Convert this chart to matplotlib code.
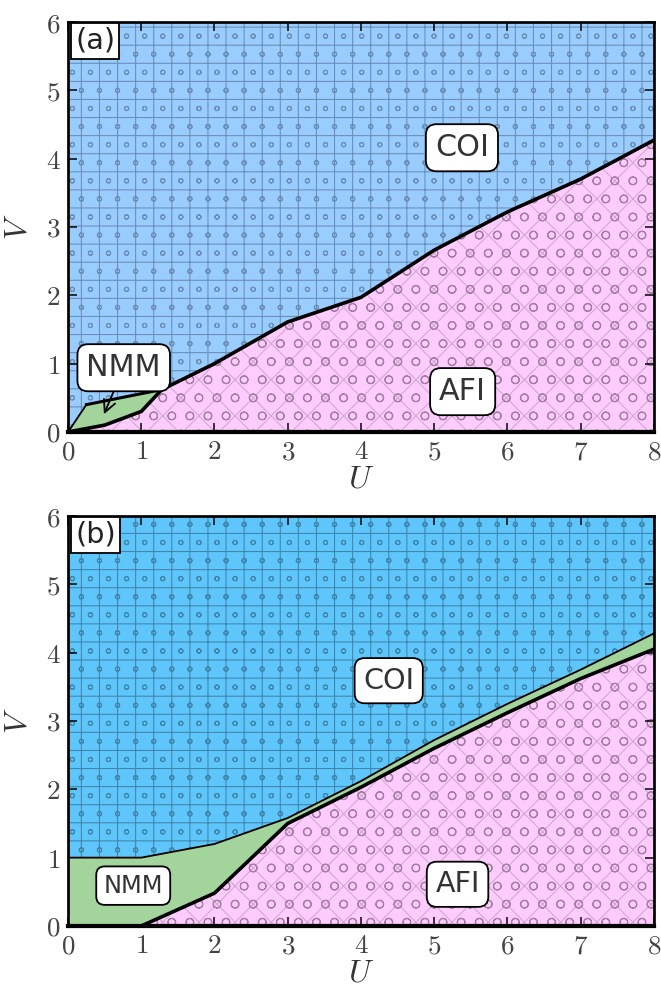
import matplotlib
matplotlib.use("Agg")
import matplotlib.pyplot as plt
import matplotlib.hatch as mhatch

# phase boundaries, panel (a)
u_afi_a = [0.0, 0.5, 1.0, 1.28, 2.0, 3.0, 4.0, 5.0, 6.0, 7.0, 8.0]
v_afi_a = [0.0, 0.1, 0.3, 0.62, 1.0, 1.61, 1.97, 2.66, 3.22, 3.7, 4.27]
u_coi_a = [0.0, 0.25, 1.28, 2.0, 3.0, 4.0, 5.0, 6.0, 7.0, 8.0]
v_coi_a = [0.0, 0.4, 0.62, 1.0, 1.61, 1.97, 2.66, 3.22, 3.7, 4.27]

# phase boundaries, panel (b)
u_afi_b = [1.0, 2.0, 3.0, 4.0, 5.0, 6.0, 7.0, 8.0]
v_afi_b = [0.0, 0.48, 1.5, 2.03, 2.6, 3.12, 3.62, 4.05]
u_coi_b = [0.0, 1.0, 2.0, 3.0, 4.0, 5.0, 6.0, 7.0, 8.0]
v_coi_b = [1.0, 1.0, 1.2, 1.58, 2.12, 2.72, 3.25, 3.75, 4.28]

U_MAX, V_MAX = 8, 6

# (text, U, V, fontsize)
labels_a = [("COI", 5.38, 4.16, 10), ("AFI", 5.39, 0.59, 10)]
labels_b = [("COI", 4.38, 3.59, 9.5), ("AFI", 5.32, 0.61, 9.5), ("NMM", 0.89, 0.59, 8)]
nmm_a = ("NMM", 0.76, 0.94, 0.49, 0.26)

DPI = 217
plt.rcParams["mathtext.fontset"] = "cm"
plt.rcParams["hatch.linewidth"] = 0.35
mhatch.SmallCircles.size = 0.12
mhatch.LargeCircles.size = 0.22

green = "#a3d49b"
pink = "#ffccff"

fig = plt.figure(figsize=(661 / DPI, 988 / DPI), dpi=DPI)
ax_a = fig.add_axes([0.103, 0.5628, 0.886, 0.4149])
ax_b = fig.add_axes([0.103, 0.0628, 0.886, 0.4149])

box = dict(boxstyle="round,pad=0.3,rounding_size=0.35", fc="white", ec="black", lw=0.6)


def style_axes(ax, tag):
    ax.set_xlim(0, U_MAX)
    ax.set_ylim(0, V_MAX)
    ax.set_xticks(range(U_MAX + 1))
    ax.set_yticks(range(V_MAX + 1))
    ax.set_xticklabels([f"${i}$" for i in range(U_MAX + 1)])
    ax.set_yticklabels([f"${i}$" for i in range(V_MAX + 1)])
    ax.tick_params(direction="in", top=True, right=True, length=3, width=0.5,
                   labelsize=9, labelcolor="#444444", pad=2.5)
    for s in ax.spines.values():
        s.set_linewidth(0.9)
        s.set_zorder(10)
    ax.set_xlabel("$U$", fontsize=10.5, color="#333333", labelpad=-0.5)
    ax.set_ylabel("$V$", fontsize=10.5, color="#333333", labelpad=4)
    ax.text(0.012, 0.988, tag, transform=ax.transAxes, ha="left", va="top",
            fontsize=9.5, color="#222222", zorder=12,
            bbox=dict(boxstyle="square,pad=0.15", fc="white", ec="black", lw=0.6))


def fill_afi(ax, u, v):
    poly_u = list(u) + [U_MAX]
    poly_v = list(v) + [0]
    ax.fill(poly_u, poly_v, fc=pink, ec="#cfa8cf", hatch="xx", lw=0, zorder=1)
    ax.fill(poly_u, poly_v, fc="none", ec="#a47ca4", hatch="OO", lw=0, zorder=1)


# ---- panel (a) ----
ax = ax_a
ax.fill(list(u_coi_a) + [U_MAX, 0], list(v_coi_a) + [V_MAX, V_MAX],
        fc="#99ccff", ec="#6a8fb5", hatch="++oo", lw=0, zorder=1)
fill_afi(ax, u_afi_a, v_afi_a)
k = u_coi_a.index(1.28)
j = u_afi_a.index(1.28)
ax.fill(u_coi_a[:k + 1] + u_afi_a[:j + 1][::-1], v_coi_a[:k + 1] + v_afi_a[:j + 1][::-1],
        fc=green, lw=0, zorder=2)
ax.plot(u_afi_a, v_afi_a, color="black", lw=1.2, zorder=5)
ax.plot(u_coi_a[1:k + 1], v_coi_a[1:k + 1], color="black", lw=1.0, zorder=5)
ax.plot(u_coi_a[:2], v_coi_a[:2], color="black", lw=0.6, zorder=5)
ax.plot([0, U_MAX], [0, 0], color="black", lw=1.4, zorder=6, clip_on=False)
for txt, u, v, fs in labels_a:
    ax.text(u, v, txt, ha="center", va="center", fontsize=fs, color="#333333",
            bbox=box, zorder=8)
txt, u, v, ua, va = nmm_a
ax.annotate(txt, xy=(ua, va), xytext=(u, v), ha="center", va="center",
            fontsize=10, color="#333333", bbox=box, zorder=8,
            arrowprops=dict(arrowstyle="->", color="black", lw=0.6, shrinkA=0, shrinkB=0))
style_axes(ax, "(a)")

# ---- panel (b) ----
ax = ax_b
ax.fill(list(u_coi_b) + [U_MAX, 0], list(v_coi_b) + [V_MAX, V_MAX],
        fc="#5ec6fa", ec="#3f86ad", hatch="++oo", lw=0, zorder=1)
fill_afi(ax, u_afi_b, v_afi_b)
ax.fill(list(u_coi_b) + u_afi_b[::-1] + [0], list(v_coi_b) + v_afi_b[::-1] + [0],
        fc=green, lw=0, zorder=2)
ax.plot(u_afi_b, v_afi_b, color="black", lw=1.2, zorder=5)
ax.plot(u_coi_b, v_coi_b, color="black", lw=0.6, zorder=5)
ax.plot([0, U_MAX], [0, 0], color="black", lw=1.4, zorder=6, clip_on=False)
for txt, u, v, fs in labels_b:
    ax.text(u, v, txt, ha="center", va="center", fontsize=fs, color="#333333",
            bbox=box, zorder=8)
style_axes(ax, "(b)")

fig.savefig("out.png", dpi=DPI)
